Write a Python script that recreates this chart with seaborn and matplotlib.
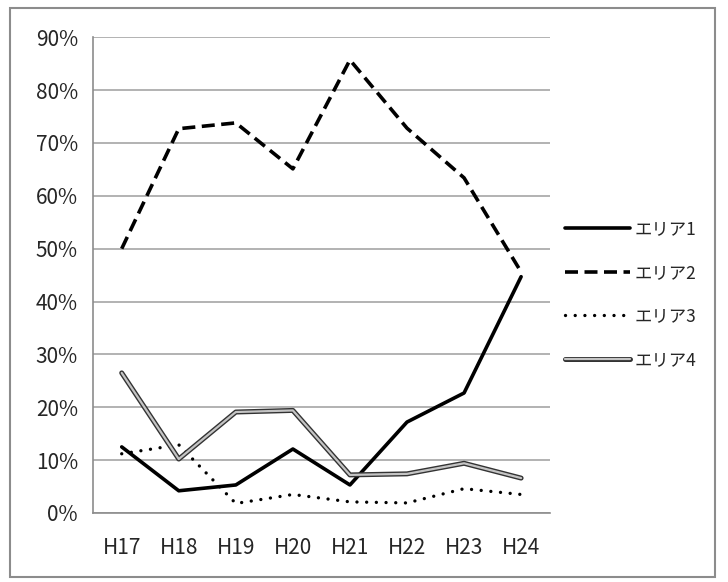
import pandas as pd
import matplotlib
matplotlib.use("Agg")
import matplotlib.pyplot as plt
import matplotlib.patheffects as pe
from matplotlib.ticker import PercentFormatter, FixedLocator
import seaborn as sns

years = ["H17", "H18", "H19", "H20", "H21", "H22", "H23", "H24"]
area1 = [12.5, 4.2, 5.3, 12.1, 5.3, 17.2, 22.7, 44.7]
area2 = [50.0, 72.7, 73.8, 65.1, 85.7, 72.8, 63.4, 45.6]
area3 = [11.2, 12.9, 1.8, 3.5, 2.1, 1.9, 4.6, 3.5]
area4 = [26.5, 10.2, 19.1, 19.4, 7.2, 7.4, 9.4, 6.6]
labels = ["エリア1", "エリア2", "エリア3", "エリア4"]

sns.set_style("white")
plt.rcParams['font.family'] = ['Noto Sans CJK JP', 'DejaVu Sans']

fig = plt.figure(figsize=(7.28, 5.82), dpi=100)
ax = fig.add_axes([0.128, 0.1186, 0.627, 0.8174])

# outer chart border
fig.patches.append(plt.Rectangle((0.0137, 0.0086), 0.968, 0.978, transform=fig.transFigure,
                                 fill=False, edgecolor="#8c8c8c", linewidth=1.5))

series = [area1, area2, area3, area4]
for name, vals in zip(labels, series):
    y = [v / 100 for v in vals]
    if name == "エリア1":
        sns.lineplot(x=years, y=y, ax=ax, label=name, color="black", linewidth=2.6)
    elif name == "エリア2":
        sns.lineplot(x=years, y=y, ax=ax, label=name, color="black", linewidth=2.6,
                     linestyle=(0, (3.6, 1.8)))
    elif name == "エリア3":
        sns.lineplot(x=years, y=y, ax=ax, label=name, color="black", linewidth=2.4,
                     linestyle=(0, (0.01, 2.9)), dash_capstyle="round")
    else:
        sns.lineplot(x=years, y=y, ax=ax, label=name, color="#c4c4c4", linewidth=1.6,
                     path_effects=[pe.Stroke(linewidth=3.6, foreground="#333333"), pe.Normal()])

ax.set_xlim(-0.5, 7.5)
ax.set_ylim(0, 0.9)
ax.set_yticks([i / 10 for i in range(10)])
ax.yaxis.set_major_formatter(PercentFormatter(1.0, decimals=0))
ax.grid(axis="y", color="#a6a6a6", linewidth=1.2)
ax.set_xlabel("")
ax.set_ylabel("")

for s in ["top", "right"]:
    ax.spines[s].set_visible(False)
for s in ["left", "bottom"]:
    ax.spines[s].set_color("#8c8c8c")
    ax.spines[s].set_linewidth(1.2)

ax.xaxis.set_minor_locator(FixedLocator([i - 0.5 for i in range(9)]))
ax.tick_params(axis="x", which="major", length=0, labelsize=15, pad=17)
ax.tick_params(axis="x", which="minor", length=6, width=1.2, color="#8c8c8c", direction="out")
ax.tick_params(axis="y", length=6, width=1.2, color="#8c8c8c", direction="out", labelsize=15, pad=5)

leg = ax.legend(loc="center left", bbox_to_anchor=(1.0, 0.459), frameon=False, fontsize=12.5,
                handlelength=3.75, handletextpad=0.25, labelspacing=1.47)

fig.savefig("out.png", dpi=100)
